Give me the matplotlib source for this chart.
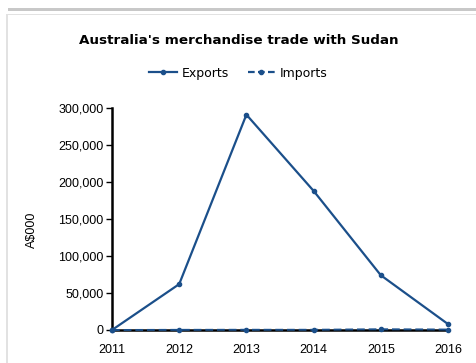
import matplotlib.pyplot as plt
from matplotlib.lines import Line2D
from matplotlib.patches import Rectangle

years = [2011, 2012, 2013, 2014, 2015, 2016]
exports = [0, 62000, 291000, 188000, 74000, 8000]
imports = [0, 200, 300, 300, 1000, 600]

blue = '#1b4f8a'

fig = plt.figure(figsize=(4.77, 3.63), dpi=100)

# panel frame
fig.patches.append(Rectangle((8 / 477, 1 - 11 / 363), 1, 3 / 363, transform=fig.transFigure,
                             facecolor='#c8c8c8', edgecolor='none'))
fig.patches.append(Rectangle((6 / 477, 1 - 15 / 363), 1, 1.5 / 363, transform=fig.transFigure,
                             facecolor='#e2e2e2', edgecolor='none'))
fig.patches.append(Rectangle((6 / 477, 0), 1.5 / 477, 1 - 14 / 363, transform=fig.transFigure,
                             facecolor='#e2e2e2', edgecolor='none'))

ax = fig.add_axes([112 / 477, 33 / 363, 336 / 477, 222 / 363])
ax.plot(years, exports, color=blue, lw=1.6, marker='o', ms=3, clip_on=False, zorder=3)
ax.plot(years, imports, color=blue, lw=1.4, ls=(0, (4, 2)), marker='o', ms=3, clip_on=False, zorder=3)

ax.set_xlim(2011, 2016)
ax.set_ylim(0, 300000)
ax.set_xticks(years)
ax.set_yticks(range(0, 300001, 50000))
ax.set_yticklabels([f'{v:,}' for v in range(0, 300001, 50000)])
for side in ('top', 'right'):
    ax.spines[side].set_visible(False)
for side in ('left', 'bottom'):
    ax.spines[side].set_linewidth(1.8)
ax.tick_params(axis='y', length=4, width=1, labelsize=9, pad=2)
ax.tick_params(axis='x', length=0, labelsize=9, pad=10)
for lab in ax.get_xticklabels() + ax.get_yticklabels():
    lab.set_fontfamily('Liberation Sans')
ax.set_ylabel('A$000', fontsize=9, fontfamily='Liberation Sans')
ax.yaxis.set_label_coords(-0.22, 0.45)

fig.text(0.5, 1 - 40 / 363, "Australia's merchandise trade with Sudan", ha='center', va='center',
         fontsize=9.7, fontweight='bold', fontfamily='DejaVu Sans')

handles = [Line2D([], [], color=blue, lw=1.6, marker='o', ms=3),
           Line2D([], [], color=blue, lw=1.6, ls=(0, (3, 1.5)), marker='o', ms=3)]
fig.legend(handles, ['Exports', 'Imports'], loc='center', bbox_to_anchor=(0.5, 1 - 73 / 363),
           ncol=2, frameon=False, fontsize=9, handlelength=2.2, handletextpad=0.4, columnspacing=1.5)

fig.savefig('out.png', dpi=100)
